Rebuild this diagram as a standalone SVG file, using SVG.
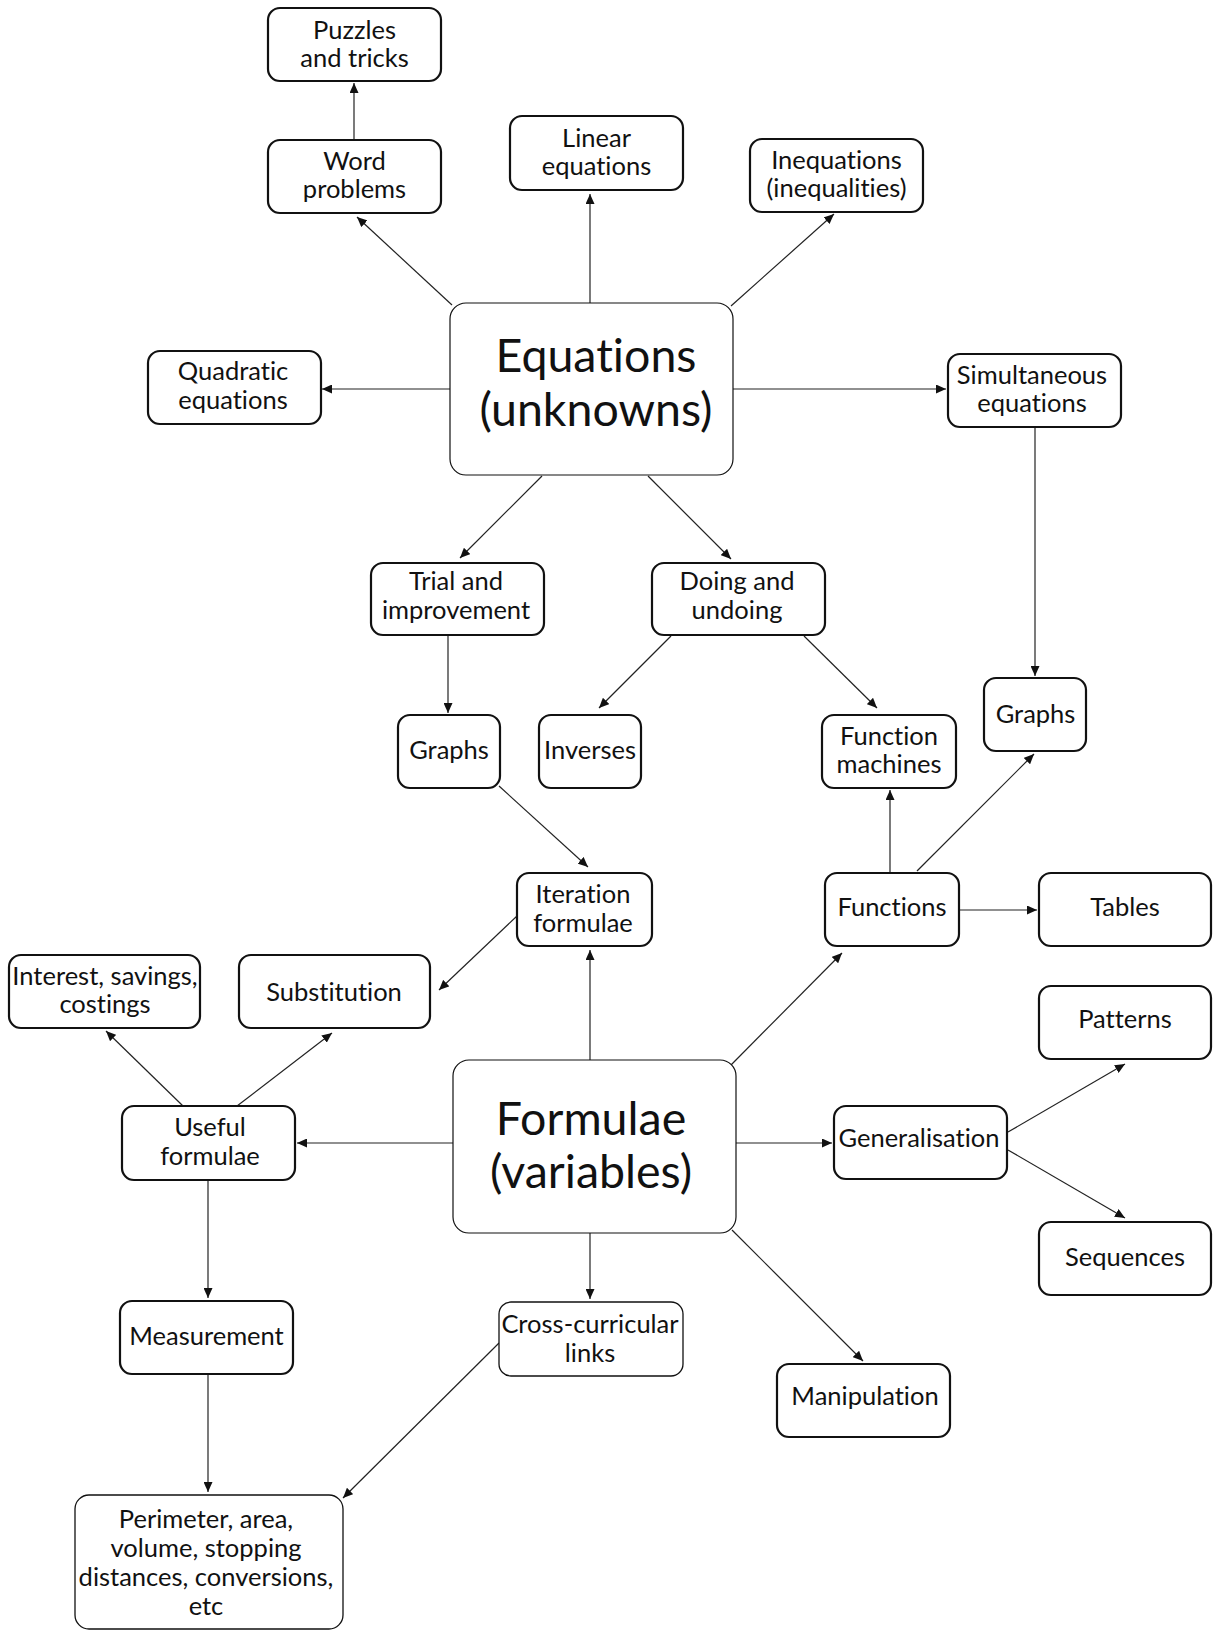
<svg xmlns="http://www.w3.org/2000/svg" width="1214" height="1632" viewBox="0 0 1214 1632">
<style>
.n rect{fill:#fff;stroke:#111;stroke-width:2.2}
.n.big rect{stroke-width:1.2}
.n.thin rect{stroke-width:1.3}
.n text{font-family:Lato,"Open Sans",sans-serif;font-size:25.5px;fill:#111;text-anchor:middle;font-variant-ligatures:none;font-feature-settings:"liga" 0,"dlig" 0}
.n.big text{font-size:46.5px}
#edges line{stroke:#222;stroke-width:1.2;marker-end:url(#ah)}
</style>
<defs>
<marker id="ah" markerUnits="userSpaceOnUse" markerWidth="11" markerHeight="9" refX="10" refY="4.5" orient="auto">
<path d="M0,0 L10,4.5 L0,9 Z" fill="#111"/>
</marker>
</defs>
<rect width="1214" height="1632" fill="#fff"/>
<g id="edges">
<line x1="354" y1="140" x2="354" y2="83"/>
<line x1="452" y1="305" x2="357" y2="217"/>
<line x1="590" y1="303" x2="590" y2="194"/>
<line x1="731" y1="306" x2="834" y2="214"/>
<line x1="450" y1="389" x2="322" y2="389"/>
<line x1="733" y1="389" x2="946" y2="389"/>
<line x1="1035" y1="427" x2="1035" y2="676"/>
<line x1="542" y1="476" x2="460" y2="558"/>
<line x1="648" y1="476" x2="731" y2="559"/>
<line x1="448" y1="635" x2="448" y2="713"/>
<line x1="671" y1="636" x2="599" y2="708"/>
<line x1="804" y1="636" x2="877" y2="708"/>
<line x1="499" y1="786" x2="588" y2="867"/>
<line x1="517" y1="916" x2="439" y2="990"/>
<line x1="590" y1="1060" x2="590" y2="950"/>
<line x1="890" y1="873" x2="890" y2="790"/>
<line x1="917" y1="871" x2="1034" y2="754"/>
<line x1="959" y1="910" x2="1037" y2="910"/>
<line x1="731" y1="1065" x2="842" y2="953"/>
<line x1="183" y1="1106" x2="106" y2="1031"/>
<line x1="237" y1="1106" x2="332" y2="1033"/>
<line x1="453" y1="1143" x2="297" y2="1143"/>
<line x1="208" y1="1180" x2="208" y2="1298"/>
<line x1="208" y1="1374" x2="208" y2="1492"/>
<line x1="590" y1="1233" x2="590" y2="1299"/>
<line x1="499" y1="1343" x2="343" y2="1498"/>
<line x1="736" y1="1143" x2="832" y2="1143"/>
<line x1="732" y1="1230" x2="863" y2="1361"/>
<line x1="1008" y1="1132" x2="1125" y2="1064"/>
<line x1="1008" y1="1150" x2="1125" y2="1218"/>
</g>
<g id="puzzles" class="n"><rect x="268" y="8" width="173" height="73" rx="12"/><text x="354.5" y="39">Puzzles</text><text x="354.5" y="67">and tricks</text></g>
<g id="word" class="n"><rect x="268" y="140" width="173" height="73" rx="12"/><text x="354.5" y="170">Word</text><text x="354.5" y="198">problems</text></g>
<g id="linear" class="n"><rect x="510" y="116" width="173" height="74" rx="12"/><text x="596.5" y="147">Linear</text><text x="596.5" y="175">equations</text></g>
<g id="inequations" class="n"><rect x="750" y="139" width="173" height="73" rx="12"/><text x="836.5" y="169">Inequations</text><text x="836.5" y="197">(inequalities)</text></g>
<g id="quadratic" class="n"><rect x="148" y="351" width="173" height="73" rx="12"/><text x="233" y="380">Quadratic</text><text x="233" y="409">equations</text></g>
<g id="equations" class="n big"><rect x="450" y="303" width="283" height="172" rx="16"/><text x="596" y="372">Equations</text><text x="596" y="426">(unknowns)</text></g>
<g id="simultaneous" class="n"><rect x="948" y="354" width="173" height="73" rx="12"/><text x="1032" y="384">Simultaneous</text><text x="1032" y="412">equations</text></g>
<g id="trial" class="n"><rect x="371" y="563" width="173" height="72" rx="12"/><text x="456" y="590">Trial and</text><text x="456" y="619">improvement</text></g>
<g id="doing" class="n"><rect x="652" y="563" width="173" height="72" rx="12"/><text x="737" y="590">Doing and</text><text x="737" y="619">undoing</text></g>
<g id="graphs-left" class="n"><rect x="398" y="715" width="102" height="73" rx="12"/><text x="449" y="759">Graphs</text></g>
<g id="inverses" class="n"><rect x="539" y="715" width="102" height="73" rx="12"/><text x="590" y="759">Inverses</text></g>
<g id="function-machines" class="n"><rect x="822" y="715" width="134" height="73" rx="12"/><text x="889" y="745">Function</text><text x="889" y="773">machines</text></g>
<g id="graphs-right" class="n"><rect x="984" y="678" width="102" height="73" rx="12"/><text x="1035.5" y="723">Graphs</text></g>
<g id="iteration" class="n"><rect x="517" y="873" width="135" height="73" rx="12"/><text x="583" y="903">Iteration</text><text x="583" y="932">formulae</text></g>
<g id="functions" class="n"><rect x="825" y="873" width="134" height="73" rx="12"/><text x="892" y="916">Functions</text></g>
<g id="tables" class="n"><rect x="1039" y="873" width="172" height="73" rx="12"/><text x="1125" y="916">Tables</text></g>
<g id="interest" class="n"><rect x="9" y="955" width="191" height="73" rx="12"/><text x="105" y="985">Interest, savings,</text><text x="105" y="1013">costings</text></g>
<g id="substitution" class="n"><rect x="239" y="955" width="191" height="73" rx="12"/><text x="334" y="1001">Substitution</text></g>
<g id="patterns" class="n"><rect x="1039" y="986" width="172" height="73" rx="12"/><text x="1125" y="1028">Patterns</text></g>
<g id="useful" class="n"><rect x="122" y="1106" width="173" height="74" rx="12"/><text x="210" y="1136">Useful</text><text x="210" y="1165">formulae</text></g>
<g id="formulae" class="n big"><rect x="453" y="1060" width="283" height="173" rx="16"/><text x="591" y="1135">Formulae</text><text x="591" y="1188">(variables)</text></g>
<g id="generalisation" class="n"><rect x="834" y="1106" width="173" height="73" rx="12"/><text x="919" y="1147">Generalisation</text></g>
<g id="sequences" class="n"><rect x="1039" y="1222" width="172" height="73" rx="12"/><text x="1125" y="1266">Sequences</text></g>
<g id="measurement" class="n"><rect x="120" y="1301" width="173" height="73" rx="12"/><text x="206.5" y="1345">Measurement</text></g>
<g id="cross" class="n thin"><rect x="499" y="1302" width="184" height="74" rx="12"/><text x="590" y="1333">Cross-curricular</text><text x="590" y="1362">links</text></g>
<g id="manipulation" class="n"><rect x="777" y="1364" width="173" height="73" rx="12"/><text x="865" y="1405">Manipulation</text></g>
<g id="perimeter" class="n thin"><rect x="75" y="1495" width="268" height="134" rx="14"/><text x="206" y="1528">Perimeter, area,</text><text x="206" y="1557">volume, stopping</text><text x="206" y="1586">distances, conversions,</text><text x="206" y="1615">etc</text></g>
</svg>
